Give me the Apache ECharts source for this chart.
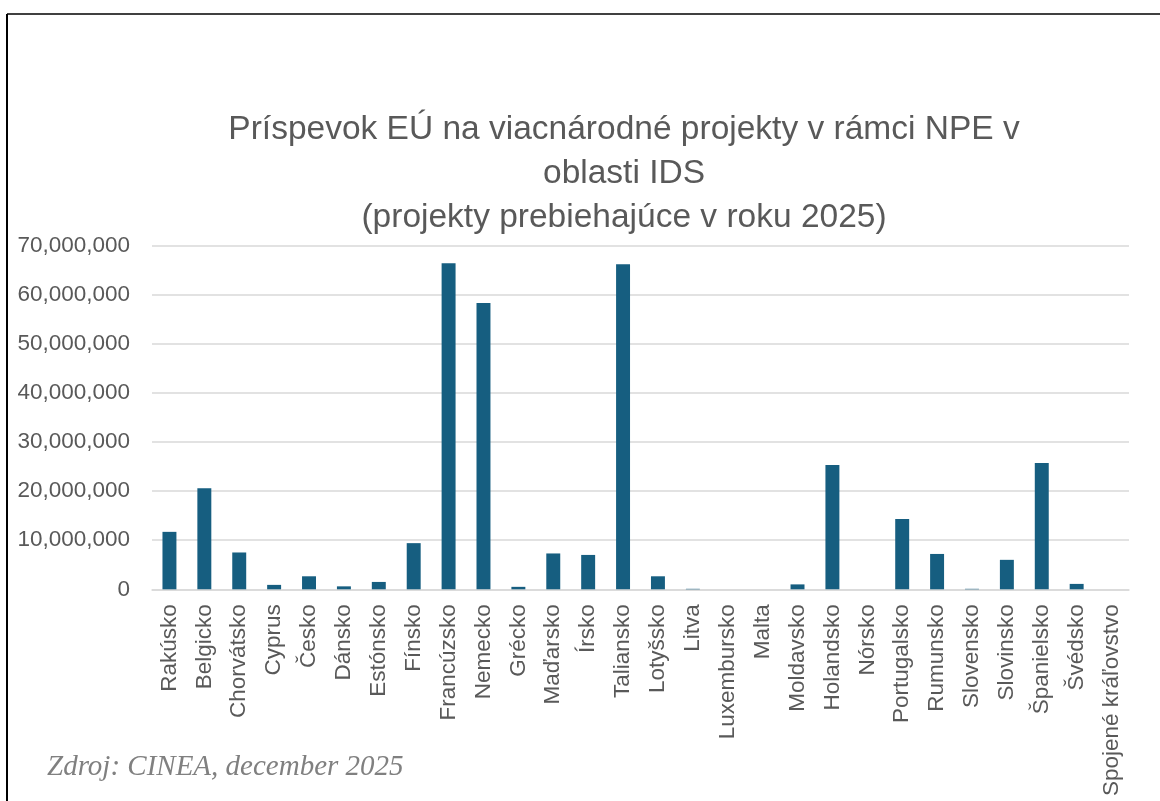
<!DOCTYPE html>
<html><head><meta charset="utf-8">
<script src="https://cdn.jsdelivr.net/npm/echarts@6/dist/echarts.min.js"></script>
<style>html,body{margin:0;padding:0;background:#fff}#c{width:1160px;height:801px}</style>
</head><body><div id="c"></div>
<script>
const categories = ["Rakúsko","Belgicko","Chorvátsko","Cyprus","Česko","Dánsko","Estónsko","Fínsko","Francúzsko","Nemecko","Grécko","Maďarsko","Írsko","Taliansko","Lotyšsko","Litva","Luxembursko","Malta","Moldavsko","Holandsko","Nórsko","Portugalsko","Rumunsko","Slovensko","Slovinsko","Španielsko","Švédsko","Spojené kráľovstvo"];
const values = [11700000,20600000,7500000,900000,2650000,600000,1500000,9400000,66400000,58300000,500000,7300000,7000000,66200000,2650000,100000,0,0,1000000,25300000,0,14300000,7200000,100000,6000000,25700000,1100000,0];
const titleLines = ["Príspevok EÚ na viacnárodné projekty v rámci NPE v","oblasti IDS","(projekty prebiehajúce v roku 2025)"];
const sourceText = "Zdroj: CINEA, december 2025";

const chart = echarts.init(document.getElementById('c'), null, {renderer:'canvas'});
chart.setOption({
  animation:false,
  backgroundColor:'#fff',
  title:{
    text: titleLines.join('\n'),
    left: 619, top: 103, textAlign:'center',
    textStyle:{fontFamily:'Liberation Sans', fontSize:33.5, fontWeight:'normal', color:'#595959', lineHeight:44}
  },
  grid:{left:152, right:31, top:245.6, bottom:211.7, containLabel:false},
  xAxis:{
    type:'category', data:categories,
    axisLine:{lineStyle:{color:'#d9d9d9', width:1.5}},
    axisTick:{show:false},
    axisLabel:{rotate:90, interval:0, margin:15, fontFamily:'Liberation Sans', fontSize:22.5, color:'#595959'}
  },
  yAxis:{
    type:'value', min:0, max:70000000, interval:10000000,
    axisLine:{show:false}, axisTick:{show:false},
    splitLine:{lineStyle:{color:'#d9d9d9', width:1.5}},
    axisLabel:{margin:22, fontFamily:'Liberation Sans', fontSize:22.5, color:'#595959',
      formatter:v=>v.toLocaleString('en-US')}
  },
  series:[{type:'bar', data:values, barCategoryGap:'60%',
    itemStyle:{color:'#165e80'}}],
  graphic:[
    {type:'line', shape:{x1:7,y1:14,x2:1160,y2:14}, style:{stroke:'#000', lineWidth:1.5}},
    {type:'line', shape:{x1:7,y1:14,x2:7,y2:801}, style:{stroke:'#000', lineWidth:2}},
    {type:'text', left:47, top:753, style:{text:sourceText, font:'italic 29px "Liberation Serif"', fill:'#808080'}}
  ]
});
</script></body></html>
